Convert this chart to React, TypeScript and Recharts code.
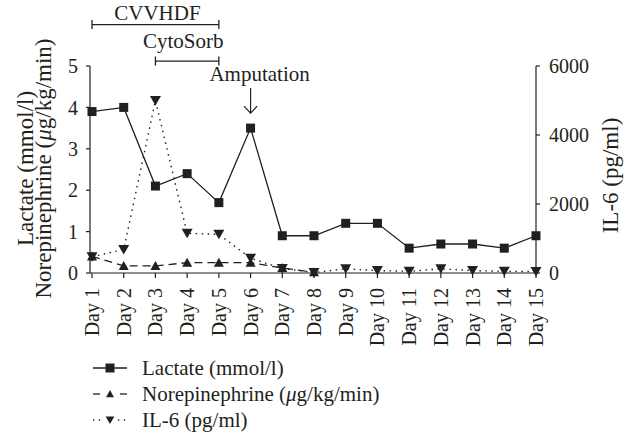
import React from 'react';
import { LineChart, Line, XAxis, YAxis, ReferenceLine, Legend } from 'recharts';

// values
const days = [
  'Day 1', 'Day 2', 'Day 3', 'Day 4', 'Day 5', 'Day 6', 'Day 7', 'Day 8',
  'Day 9', 'Day 10', 'Day 11', 'Day 12', 'Day 13', 'Day 14', 'Day 15',
];
const lactate = [3.9, 4.0, 2.1, 2.4, 1.7, 3.5, 0.9, 0.9, 1.2, 1.2, 0.6, 0.7, 0.7, 0.6, 0.9];
const norepinephrine = [0.4, 0.17, 0.17, 0.25, 0.25, 0.25, 0.12, 0.02, null, null, null, null, null, null, null];
const il6 = [470, 680, 5000, 1150, 1120, 430, 130, 15, 120, 70, 50, 120, 70, 50, 40];

const leftTicks = [0, 1, 2, 3, 4, 5];
const rightTicks = [0, 2000, 4000, 6000];

// therapy windows and the amputation event (in left-axis units)
const therapies = [
  { label: 'CVVHDF', from: 'Day 1', to: 'Day 5', level: 6.0, dx: 2, gap: 5 },
  { label: 'CytoSorb', from: 'Day 3', to: 'Day 5', level: 5.12, dx: -4, gap: 13 },
];
const amputation = { label: 'Amputation', day: 'Day 6', top: 4.47, bottom: 3.86 };

const data = days.map((day, i) => ({
  day,
  lactate: lactate[i],
  norepinephrine: norepinephrine[i],
  il6: il6[i],
}));

const FONT = 'Liberation Serif';
const INK = '#231f20';

type MarkerKind = 'square' | 'up' | 'down';

const markerShape = (kind: MarkerKind, cx: number, cy: number, s = 1) => {
  if (kind === 'square') {
    return <rect x={cx - 4.5 * s} y={cy - 4.5 * s} width={9 * s} height={9 * s} fill={INK} />;
  }
  if (kind === 'up') {
    return <polygon points={`${cx},${cy - 5 * s} ${cx + 5 * s},${cy + 4 * s} ${cx - 5 * s},${cy + 4 * s}`} fill={INK} />;
  }
  return <polygon points={`${cx - 5.5 * s},${cy - 4.5 * s} ${cx + 5.5 * s},${cy - 4.5 * s} ${cx},${cy + 5 * s}`} fill={INK} />;
};

const dotFor = (kind: MarkerKind) => (p: any) => {
  const { cx, cy, key, value } = p;
  if (cx == null || cy == null || value == null) return <g key={key} />;
  return <g key={key}>{markerShape(kind, cx, cy)}</g>;
};

const seriesOrder = ['lactate', 'norepinephrine', 'il6'];
const series = {
  lactate: { kind: 'square' as MarkerKind, dash: undefined },
  norepinephrine: { kind: 'up' as MarkerKind, dash: '8 5' },
  il6: { kind: 'down' as MarkerKind, dash: '1.5 4.5' },
};

const muSvg = (text: string) =>
  text.split('μ').map((part, i) => (
    <React.Fragment key={i}>
      {i > 0 && <tspan fontStyle="italic">μ</tspan>}
      {part}
    </React.Fragment>
  ));

const muHtml = (text: string) =>
  text.split('μ').map((part, i) => (
    <React.Fragment key={i}>
      {i > 0 && <i>μ</i>}
      {part}
    </React.Fragment>
  ));

const XTick = ({ x, y, payload }: any) => (
  <g transform={`translate(${x},${y})`}>
    <text transform="rotate(-90)" x={-8} y={0} dy="0.35em" textAnchor="end" fontSize={20} fill={INK} fontFamily={FONT}>
      {payload.value}
    </text>
  </g>
);

const LeftTitle = ({ viewBox }: any) => {
  const cx = viewBox.x + 4;
  const cy = viewBox.y + viewBox.height / 2 - 1;
  return (
    <g transform={`translate(${cx},${cy}) rotate(-90)`}>
      <text x={0} y={-9} textAnchor="middle" dominantBaseline="central" fontSize={23} fill={INK} fontFamily={FONT}>
        Lactate (mmol/l)
      </text>
      <text x={0} y={9} textAnchor="middle" dominantBaseline="central" fontSize={23} fill={INK} fontFamily={FONT}>
        {muSvg('Norepinephrine (μg/kg/min)')}
      </text>
    </g>
  );
};

const RightTitle = ({ viewBox }: any) => {
  const cx = viewBox.x + 74;
  const cy = viewBox.y + viewBox.height / 2 + 6;
  return (
    <g transform={`translate(${cx},${cy}) rotate(-90)`}>
      <text x={0} y={0} textAnchor="middle" dominantBaseline="central" fontSize={23} fill={INK} fontFamily={FONT}>
        IL-6 (pg/ml)
      </text>
    </g>
  );
};

const bracket = (label: string, dx: number, gap: number) => (p: any) => {
  const { x1, y1, x2 } = p;
  return (
    <g>
      <line x1={x1} y1={y1} x2={x2} y2={y1} stroke={INK} strokeWidth={1.3} />
      <line x1={x1} y1={y1 - 4.5} x2={x1} y2={y1 + 4.5} stroke={INK} strokeWidth={1.3} />
      <line x1={x2} y1={y1 - 4.5} x2={x2} y2={y1 + 4.5} stroke={INK} strokeWidth={1.3} />
      <text x={(x1 + x2) / 2 + dx} y={y1 - gap} textAnchor="middle" fontSize={21} fill={INK} fontFamily={FONT}>
        {label}
      </text>
    </g>
  );
};

const arrow = (label: string) => (p: any) => {
  const { x1, y1, y2 } = p;
  const top = Math.min(y1, y2);
  const bot = Math.max(y1, y2);
  return (
    <g>
      <line x1={x1} y1={top} x2={x1} y2={bot} stroke={INK} strokeWidth={1.2} />
      <polyline points={`${x1 - 6.5},${bot - 7} ${x1},${bot} ${x1 + 6.5},${bot - 7}`} fill="none" stroke={INK} strokeWidth={1.2} />
      <text x={x1 + 9} y={top - 7} textAnchor="middle" fontSize={21} fill={INK} fontFamily={FONT}>
        {label}
      </text>
    </g>
  );
};

const legendIcon = (key: string) => {
  const cy = 13;
  if (key === 'lactate') {
    return (
      <>
        <line x1={0} y1={cy} x2={34} y2={cy} stroke={INK} strokeWidth={1.3} />
        {markerShape('square', 17, cy)}
      </>
    );
  }
  if (key === 'norepinephrine') {
    return (
      <>
        <line x1={0} y1={cy} x2={7} y2={cy} stroke={INK} strokeWidth={1.3} />
        <line x1={27} y1={cy} x2={34} y2={cy} stroke={INK} strokeWidth={1.3} />
        {markerShape('up', 17, cy, 0.8)}
      </>
    );
  }
  return (
    <>
      <line x1={0} y1={cy} x2={10} y2={cy} stroke={INK} strokeWidth={1.3} strokeDasharray="1.3 4.5" />
      <line x1={25} y1={cy} x2={34} y2={cy} stroke={INK} strokeWidth={1.3} strokeDasharray="1.3 4.5" />
      {markerShape('down', 17, cy, 0.8)}
    </>
  );
};

const LegendContent = ({ payload }: any) => {
  const items = [...(payload || [])].sort(
    (a: any, b: any) => seriesOrder.indexOf(a.dataKey) - seriesOrder.indexOf(b.dataKey),
  );
  return (
    <div style={{ fontFamily: FONT, fontSize: 21, color: INK }}>
      {items.map((entry: any) => (
        <div key={entry.dataKey} style={{ display: 'flex', alignItems: 'center', height: 26 }}>
          <svg width={35} height={26}>{legendIcon(entry.dataKey)}</svg>
          <span style={{ marginLeft: 14, whiteSpace: 'nowrap', lineHeight: '26px' }}>{muHtml(entry.value)}</span>
        </div>
      ))}
    </div>
  );
};

export default function App() {
  return (
    <div style={{ position: 'absolute', left: 0, top: 0, width: 631, height: 436, background: '#fff', fontFamily: FONT }}>
      <LineChart width={631} height={436} data={data} margin={{ top: 66, right: 35, bottom: 73, left: 30 }}>
        <XAxis
          dataKey="day"
          interval={0}
          height={90}
          padding={{ left: 2, right: 0 }}
          tick={<XTick />}
          tickSize={5}
          tickMargin={2}
          axisLine={{ stroke: INK, strokeWidth: 1.2 }}
          tickLine={{ stroke: INK, strokeWidth: 1.2 }}
        />
        <YAxis
          yAxisId="left"
          orientation="left"
          width={60}
          domain={[0, 5]}
          ticks={leftTicks}
          tickSize={4}
          tickMargin={8}
          tick={{ fontSize: 20, fill: INK, fontFamily: FONT }}
          axisLine={{ stroke: INK, strokeWidth: 1.2 }}
          tickLine={{ stroke: INK, strokeWidth: 1.2 }}
          label={{ content: LeftTitle }}
        />
        <YAxis
          yAxisId="right"
          orientation="right"
          width={60}
          domain={[0, 6000]}
          ticks={rightTicks}
          tickSize={4}
          tickMargin={9}
          tick={{ fontSize: 20, fill: INK, fontFamily: FONT }}
          axisLine={{ stroke: INK, strokeWidth: 1.2 }}
          tickLine={{ stroke: INK, strokeWidth: 1.2 }}
          label={{ content: RightTitle }}
        />
        {therapies.map((t) => (
          <ReferenceLine
            key={t.label}
            yAxisId="left"
            ifOverflow="visible"
            segment={[{ x: t.from, y: t.level }, { x: t.to, y: t.level }]}
            shape={bracket(t.label, t.dx, t.gap)}
          />
        ))}
        <ReferenceLine
          yAxisId="left"
          ifOverflow="visible"
          segment={[{ x: amputation.day, y: amputation.top }, { x: amputation.day, y: amputation.bottom }]}
          shape={arrow(amputation.label)}
        />
        <Line
          yAxisId="left"
          dataKey="lactate"
          name="Lactate (mmol/l)"
          stroke={INK}
          strokeWidth={1.3}
          dot={dotFor(series.lactate.kind)}
          activeDot={false}
          isAnimationActive={false}
        />
        <Line
          yAxisId="left"
          dataKey="norepinephrine"
          name="Norepinephrine (μg/kg/min)"
          stroke={INK}
          strokeWidth={1.3}
          strokeDasharray={series.norepinephrine.dash}
          dot={dotFor(series.norepinephrine.kind)}
          activeDot={false}
          isAnimationActive={false}
        />
        <Line
          yAxisId="right"
          dataKey="il6"
          name="IL-6 (pg/ml)"
          stroke={INK}
          strokeWidth={1.4}
          strokeDasharray={series.il6.dash}
          dot={dotFor(series.il6.kind)}
          activeDot={false}
          isAnimationActive={false}
        />
        <Legend
          layout="vertical"
          align="center"
          verticalAlign="middle"
          content={<LegendContent />}
          wrapperStyle={{ left: 93, top: 355, width: 'auto', height: 'auto' }}
        />
      </LineChart>
    </div>
  );
}
